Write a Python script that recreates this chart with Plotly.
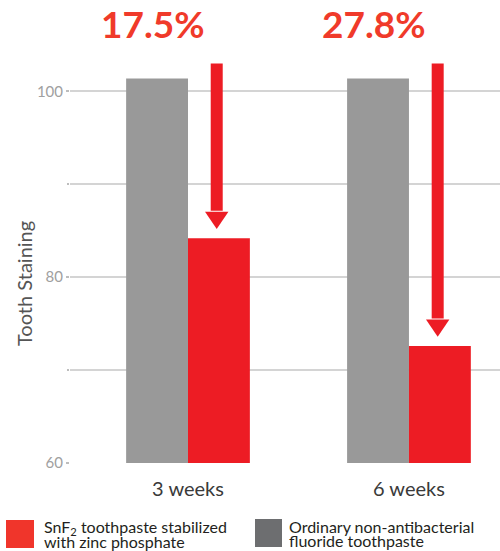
import plotly.graph_objects as go

categories = ["3 weeks", "6 weeks"]
ordinary_values = [101.4, 101.4]
snf2_values = [84.2, 72.6]
reduction_labels = ["17.5%", "27.8%"]
y_tick_values = [60, 80, 100]
y_minor_values = [70, 90]

GRAY_BAR = "#999999"
RED_BAR = "#ed1c24"
RED_TEXT = "#f03a2a"
LEG_RED = "#f0352b"
LEG_GRAY = "#6d6e70"

xs = list(range(len(categories)))

fig = go.Figure()
fig.add_trace(go.Bar(x=xs, y=ordinary_values, marker_color=GRAY_BAR,
                     marker_line_width=0, name="Ordinary non-antibacterial fluoride toothpaste"))
fig.add_trace(go.Bar(x=xs, y=snf2_values, marker_color=RED_BAR,
                     marker_line_width=0, name="SnF2 toothpaste stabilized with zinc phosphate"))

PLOT_L, PLOT_R, PLOT_T, PLOT_B = 70, 500, 45, 463

def px_x(px):
    return (px - PLOT_L) / (PLOT_R - PLOT_L)
def px_y(py):
    return (PLOT_B - py) / (PLOT_B - PLOT_T)

shapes = []
annotations = []
arrow_top = 103.0
for i, (g, r, lab) in enumerate(zip(ordinary_values, snf2_values, reduction_labels)):
    ax = i + 0.13
    tip = r + 1.0
    head_start = tip + 1.85
    hw = 0.053
    shapes.append(dict(type="line", xref="x", yref="y", x0=ax, x1=ax,
                       y0=head_start + 0.1, y1=arrow_top,
                       line=dict(color=RED_BAR, width=12)))
    shapes.append(dict(type="path", xref="x", yref="y",
                       path=f"M {ax-hw},{head_start} L {ax+hw},{head_start} L {ax},{tip} Z",
                       fillcolor=RED_BAR, line=dict(width=0)))
    annotations.append(dict(text=f"<b>{lab}</b>", xref="x", yref="paper",
                            x=i - 0.16, y=px_y(23), yanchor="middle", xanchor="center",
                            showarrow=False,
                            font=dict(family="Lato", size=37, color=RED_TEXT)))

# y-axis title
annotations.append(dict(text="Tooth Staining", xref="paper", yref="paper",
                        x=px_x(24), y=px_y(284), xanchor="center", yanchor="middle",
                        textangle=-90, showarrow=False,
                        font=dict(family="Lato", size=20, color="#555555")))

# legend drawn manually
shapes.append(dict(type="rect", xref="paper", yref="paper",
                   x0=px_x(6), x1=px_x(34), y0=px_y(548), y1=px_y(520),
                   fillcolor=LEG_RED, line=dict(width=0)))
shapes.append(dict(type="rect", xref="paper", yref="paper",
                   x0=px_x(255), x1=px_x(282), y0=px_y(547), y1=px_y(519),
                   fillcolor=LEG_GRAY, line=dict(width=0)))

leg_font = dict(family="Lato", size=16, color="#231f20")
annotations += [
    dict(text="SnF<sub>2</sub> toothpaste stabilized", xref="paper", yref="paper",
         x=px_x(42), y=px_y(527), xanchor="left", yanchor="middle", showarrow=False, font=leg_font),
    dict(text="with zinc phosphate", xref="paper", yref="paper",
         x=px_x(42), y=px_y(541), xanchor="left", yanchor="middle", showarrow=False, font=leg_font),
    dict(text="Ordinary non-antibacterial", xref="paper", yref="paper",
         x=px_x(287), y=px_y(526), xanchor="left", yanchor="middle", showarrow=False, font=leg_font),
    dict(text="fluoride toothpaste", xref="paper", yref="paper",
         x=px_x(287), y=px_y(540), xanchor="left", yanchor="middle", showarrow=False, font=leg_font),
]

fig.update_layout(
    width=500, height=551,
    margin=dict(l=PLOT_L, r=500 - PLOT_R, t=PLOT_T, b=551 - PLOT_B),
    paper_bgcolor="white", plot_bgcolor="white",
    barmode="group", bargap=0.44, bargroupgap=0,
    showlegend=False,
    shapes=shapes, annotations=annotations,
    font=dict(family="Lato"),
)
fig.update_xaxes(range=[-0.534, 1.412], tickvals=xs, ticktext=categories,
                 showgrid=False, zeroline=False, showline=False,
                 ticks="outside", ticklen=8, tickcolor="rgba(0,0,0,0)",
                 tickfont=dict(family="Lato", size=20, color="#3a3a3a"))
fig.update_yaxes(range=[60, 105], tickvals=y_tick_values,
                 showgrid=True, gridcolor="#d4d4d4", gridwidth=2,
                 minor=dict(tickvals=y_minor_values, showgrid=True, gridcolor="#d4d4d4",
                            gridwidth=2, ticks="outside", ticklen=2, tickcolor="#bdbdbd"),
                 zeroline=False, showline=False,
                 ticks="outside", ticklen=3, tickcolor="#bdbdbd", tickwidth=2,
                 tickfont=dict(family="Lato", size=15, color="#a0a0a0"))

fig.write_html("out.html", config={"displayModeBar": False},
               post_script="document.body.style.margin='0';")
